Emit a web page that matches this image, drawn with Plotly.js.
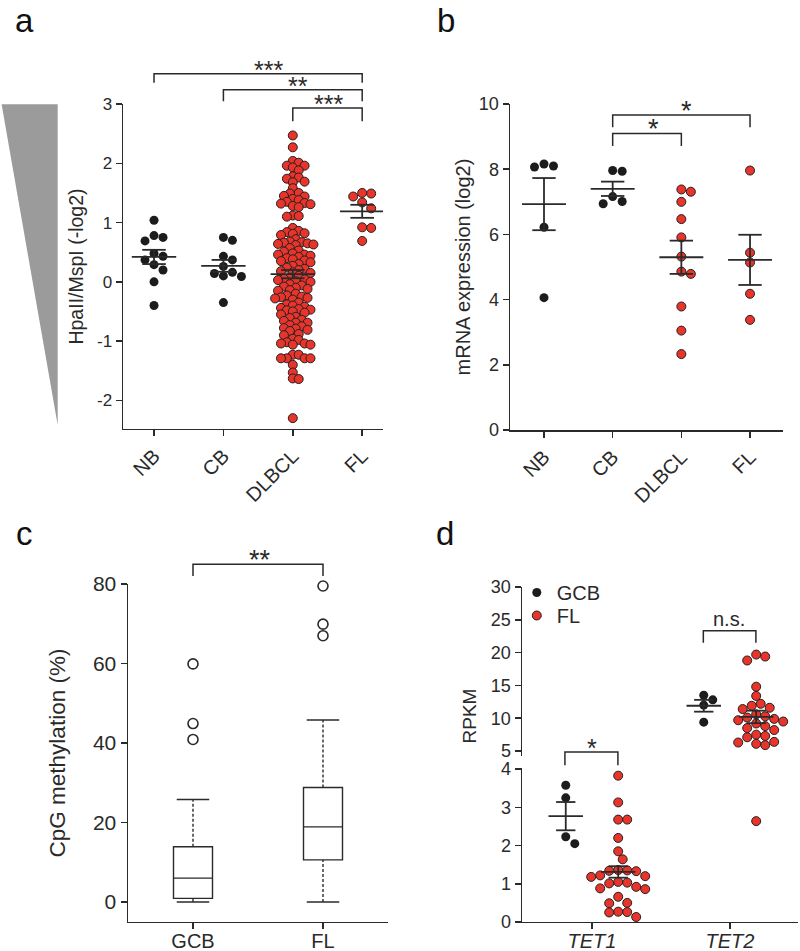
<!DOCTYPE html>
<html>
<head>
<meta charset="utf-8">
<script src="https://cdn.plot.ly/plotly-3.0.1.min.js"></script>
<style>
  html, body { margin: 0; padding: 0; background: #fff; }
  #chart { width: 800px; height: 951px; }
</style>
</head>
<body>
<div id="chart"></div>
<script>
// ---- panel a: HpaII/MspI ratio ----
const groupsA = ['NB', 'CB', 'DLBCL', 'FL'];
const nbA = [1.04, 0.75, 0.78, 0.69, 0.43, 0.48, 0.37, 0.29, 0.20, 0.00, -0.40];
const cbA = [0.75, 0.70, 0.37, 0.43, 0.26, 0.16, 0.10, 0.09, 0.14, -0.35];
const dlbclA = [
  2.47, 2.27,
  2.04, 2.01, 1.96, 1.96, 1.93, 1.88,
  1.78, 1.76, 1.74, 1.69, 1.68, 1.58,
  1.50, 1.49, 1.45, 1.44, 1.40, 1.38, 1.35, 1.33, 1.32, 1.31,
  1.28, 1.26,
  1.12, 1.11, 1.10,
  0.91, 0.86, 0.84, 0.82, 0.81, 0.79,
  0.72, 0.68, 0.67, 0.66, 0.65, 0.64, 0.63, 0.62,
  0.57, 0.53, 0.51, 0.48, 0.46, 0.46, 0.44,
  0.42, 0.40, 0.38, 0.36, 0.35, 0.33, 0.30,
  0.27, 0.24, 0.22, 0.20, 0.18, 0.16, 0.15,
  0.10, 0.07, 0.05, 0.04, 0.03, 0.01, 0.00,
  -0.04, -0.06, -0.08, -0.10, -0.12, -0.14, -0.15,
  -0.20, -0.23, -0.25, -0.26, -0.27, -0.28, -0.30,
  -0.35, -0.38, -0.40, -0.42, -0.44,
  -0.46, -0.47, -0.48, -0.50, -0.52,
  -0.55, -0.59, -0.61, -0.64, -0.66, -0.69, -0.69, -0.73,
  -0.75, -0.78, -0.79, -0.81, -0.83,
  -0.88, -0.90, -0.96, -0.98, -1.02, -1.04, -1.04, -1.06, -1.06,
  -1.23, -1.23, -1.29, -1.29, -1.29, -1.29, -1.40,
  -1.53, -1.63, -1.64,
  -2.30,
];
const flA = [1.44, 1.50, 1.49, 1.34, 1.24, 0.92, 0.91, 0.69];
const meanA = [0.42, 0.27, 0.13, 1.19];
const semA = [0.12, 0.10, 0.07, 0.11];
const ticksA = [-2, -1, 0, 1, 2, 3];
const tickTextA = ['-2', '-1', '0', '1', '2', '3'];

// ---- panel b: mRNA expression ----
const groupsB = ['NB', 'CB', 'DLBCL', 'FL'];
const nbB = [8.16, 8.07, 8.10, 6.22, 4.06];
const cbB = [7.96, 7.94, 7.16, 6.94, 7.01];
const dlbclB = [7.31, 7.38, 7.00, 6.47, 5.91, 5.32, 4.86, 4.79, 3.79, 3.05, 2.33];
const flB = [7.96, 5.44, 5.14, 4.18, 3.38];
const meanB = [6.93, 7.40, 5.30, 5.22];
const semB = [0.80, 0.22, 0.51, 0.77];

// ---- panel c: CpG methylation boxes ----
const groupsC = ['GCB', 'FL'];
const lowerC = [0, 0];
const q1C = [0.9, 10.6];
const medianC = [6.0, 18.9];
const q3C = [13.9, 28.8];
const upperC = [25.8, 45.8];
const outGcbC = [40.9, 44.9, 59.9];
const outFlC = [67.0, 69.9, 79.5];

// ---- panel d: TET RPKM ----
const genesD = ['TET1', 'TET2'];
const tet1Gcb = [3.58, 3.25, 2.23, 2.05];
const tet1Fl = [3.83, 3.13, 2.68, 2.68, 2.20, 1.85, 1.64, 1.36, 1.35, 1.34, 1.33, 1.22, 1.20, 1.18,
  1.05, 1.03, 1.01, 0.92, 0.88, 0.86, 0.66, 0.50, 0.49, 0.27, 0.26, 0.25, 0.13];
const tet2Gcb = [13.5, 12.8, 12.0, 9.4];
const tet2Fl = [19.7, 19.4, 18.8, 14.8, 13.4, 12.2, 11.9, 11.6, 11.4, 10.6, 10.3, 10.1, 9.9, 9.7,
  9.5, 9.2, 8.8, 8.5, 8.2, 7.5, 7.3, 7.1, 6.4, 6.3, 6.1, 5.9, 2.64];
const meanGcbD = [2.77, 11.9];
const semGcbD = [0.37, 0.9];
const meanFlD = [1.31, 10.2];
const semFlD = [0.15, 0.95];

// ---------------------------------------------------------------
const W = 800, H = 951;
const RED = '#e8342b', BLACK = '#1c1c1c', INK = '#2a2a2a';
const FONT = 'Arial, "Liberation Sans", sans-serif';

const domA = { x: [0.15375, 0.47875], y: [0.5489, 0.8906] };
const rngA = { x: [-0.447, 3.30], y: [-2.483, 3] };
const domB = { x: [0.6375, 0.97875], y: [0.5478, 0.8906] };
const rngB = { x: [-0.495, 3.48], y: [0, 10] };
const domC = { x: [0.16, 0.485], y: [0.0305, 0.3859] };
const rngC = { x: [-0.5, 1.5], y: [-5.03, 80] };
const domD = { x: [0.6525, 0.9975], lo: [0.0305, 0.1924], hi: [0.2050, 0.3828] };
const rngD = { x: [-0.507, 1.493], lo: [0, 4.03], hi: [4.24, 30] };

function pxPer(dom, rng, size) {
  return (dom[1] - dom[0]) * size / (rng[1] - rng[0]);
}
function toPaper(dom, rng, v) {
  return dom[0] + (v - rng[0]) / (rng[1] - rng[0]) * (dom[1] - dom[0]);
}

// greedy beeswarm in pixel space, returns x offsets in axis units
function swarm(values, pyUnit, pxUnit, diam) {
  const order = values.map((v, i) => i).sort((a, b) => values[b] - values[a]);
  const placed = [];
  const offsets = new Array(values.length).fill(0);
  const step = diam * 0.5;
  order.forEach((i) => {
    const y = values[i] * pyUnit;
    for (let k = 0; k < 80; k++) {
      const dx = k === 0 ? 0 : Math.ceil(k / 2) * step * (k % 2 ? 1 : -1);
      const hit = placed.some((p) => (p.x - dx) ** 2 + (p.y - y) ** 2 < diam * diam);
      if (!hit) {
        placed.push({ x: dx, y });
        offsets[i] = dx / pxUnit;
        break;
      }
    }
  });
  return offsets;
}

function dots(values, center, pyUnit, pxUnit, diam, color, axes) {
  const off = swarm(values, pyUnit, pxUnit, diam);
  const red = color === RED;
  return {
    type: 'scatter', mode: 'markers',
    x: values.map((v, i) => center + off[i]), y: values,
    marker: { size: 9, color, line: { color: red ? '#222' : color, width: red ? 1 : 0 } },
    showlegend: false, cliponaxis: false, hoverinfo: 'y',
    xaxis: axes[0], yaxis: axes[1],
  };
}

function meanSem(centers, means, sems, halfMean, halfCap, axes) {
  const x = [], y = [];
  centers.forEach((c, i) => {
    const m = means[i], lo = m - sems[i], hi = m + sems[i];
    x.push(c - halfMean, c + halfMean, null, c, c, null, c - halfCap, c + halfCap, null, c - halfCap, c + halfCap, null);
    y.push(m, m, null, lo, hi, null, hi, hi, null, lo, lo, null);
  });
  return {
    type: 'scatter', mode: 'lines', x, y, line: { color: INK, width: 1.8 },
    showlegend: false, hoverinfo: 'skip', cliponaxis: false, xaxis: axes[0], yaxis: axes[1],
  };
}

const traces = [];

// panel a
const pyA = pxPer(domA.y, rngA.y, H), pxA = pxPer(domA.x, rngA.x, W);
[nbA, cbA, dlbclA, flA].forEach((vals, g) => {
  const diam = g === 2 ? 5.9 : 9;
  traces.push(dots(vals, g, pyA, pxA, diam, g < 2 ? BLACK : RED, ['x', 'y']));
});
traces.push(meanSem([0, 1, 2, 3], meanA, semA, 0.32, 0.17, ['x', 'y']));

// panel b
const pyB = pxPer(domB.y, rngB.y, H), pxB = pxPer(domB.x, rngB.x, W);
[nbB, cbB, dlbclB, flB].forEach((vals, g) => {
  traces.push(dots(vals, g, pyB, pxB, 9.5, g < 2 ? BLACK : RED, ['x2', 'y2']));
});
traces.push(meanSem([0, 1, 2, 3], meanB, semB, 0.32, 0.17, ['x2', 'y2']));

// panel c
traces.push({
  type: 'box', x: [0, 1], q1: q1C, median: medianC, q3: q3C,
  lowerfence: q1C, upperfence: q3C, width: 0.3, whiskerwidth: 0,
  fillcolor: '#ffffff', line: { color: INK, width: 1.4 }, boxpoints: false,
  showlegend: false, hoverinfo: 'skip', xaxis: 'x3', yaxis: 'y3',
});
const whX = [], whY = [], capX = [], capY = [];
[0, 1].forEach((c) => {
  whX.push(c, c, null, c, c, null);
  whY.push(q3C[c], upperC[c], null, lowerC[c], q1C[c], null);
  capX.push(c - 0.125, c + 0.125, null, c - 0.125, c + 0.125, null);
  capY.push(upperC[c], upperC[c], null, lowerC[c], lowerC[c], null);
});
traces.push({ type: 'scatter', mode: 'lines', x: whX, y: whY, line: { color: INK, width: 1.4, dash: '3px,2px' },
  showlegend: false, hoverinfo: 'skip', xaxis: 'x3', yaxis: 'y3' });
traces.push({ type: 'scatter', mode: 'lines', x: capX, y: capY, line: { color: INK, width: 1.4 },
  showlegend: false, hoverinfo: 'skip', cliponaxis: false, xaxis: 'x3', yaxis: 'y3' });
[outGcbC, outFlC].forEach((vals, c) => {
  traces.push({ type: 'scatter', mode: 'markers', x: vals.map(() => c), y: vals,
    marker: { symbol: 'circle-open', size: 10, color: INK, line: { width: 1.6 } },
    showlegend: false, cliponaxis: false, xaxis: 'x3', yaxis: 'y3' });
});

// panel d (broken y axis: y4 lower, y5 upper)
const pxD = pxPer(domD.x, rngD.x, W);
const pyLo = pxPer(domD.lo, rngD.lo, H), pyHi = pxPer(domD.hi, rngD.hi, H);
const split = { GCB: { lo: { x: [], y: [] }, hi: { x: [], y: [] } }, FL: { lo: { x: [], y: [] }, hi: { x: [], y: [] } } };
[[tet1Gcb, tet1Fl], [tet2Gcb, tet2Fl]].forEach((pair, gi) => {
  pair.forEach((vals, k) => {
    const key = k === 0 ? 'GCB' : 'FL';
    const center = gi + (k === 0 ? -0.19 : 0.19);
    const lo = vals.filter((v) => v <= rngD.lo[1]);
    const hi = vals.filter((v) => v > rngD.lo[1]);
    const offLo = swarm(lo, pyLo, pxD, 9);
    const offHi = swarm(hi, pyHi, pxD, 9);
    lo.forEach((v, i) => { split[key].lo.x.push(center + offLo[i]); split[key].lo.y.push(v); });
    hi.forEach((v, i) => { split[key].hi.x.push(center + offHi[i]); split[key].hi.y.push(v); });
  });
});
['GCB', 'FL'].forEach((key) => {
  const color = key === 'GCB' ? BLACK : RED;
  const mk = { size: 9, color, line: { color: key === 'FL' ? '#222' : color, width: key === 'FL' ? 1 : 0 } };
  traces.push({ type: 'scatter', mode: 'markers', name: key, x: split[key].hi.x, y: split[key].hi.y,
    marker: mk, showlegend: true, legend: key === 'GCB' ? 'legend' : 'legend2',
    cliponaxis: false, xaxis: 'x4', yaxis: 'y5' });
  traces.push({ type: 'scatter', mode: 'markers', name: key, x: split[key].lo.x, y: split[key].lo.y,
    marker: mk, showlegend: false, cliponaxis: false, xaxis: 'x4', yaxis: 'y4' });
});
[0, 1].forEach((gi) => {
  const ax = gi === 0 ? 'y4' : 'y5';
  traces.push(meanSem([gi - 0.19, gi + 0.19], [meanGcbD[gi], meanFlD[gi]], [semGcbD[gi], semFlD[gi]], 0.125, 0.07, ['x4', ax]));
});

// ---------------------------------------------------------------
const axisBase = {
  showgrid: false, zeroline: false, showline: true, linecolor: INK, linewidth: 1.5,
  ticks: 'outside', ticklen: 6, tickwidth: 1.5, tickcolor: INK, fixedrange: true,
};

// significance brackets (x in data units, y converted to paper)
const shapes = [{
  type: 'path', xref: 'paper', yref: 'paper',
  path: 'M 0.002,0.8903 L 0.0721,0.8903 L 0.0721,0.5531 Z',
  fillcolor: '#9b9b9b', line: { width: 0 },
}];
const annotations = [];
function bracket(xref, x0, x1, top, leg, label, labelX, size, shift) {
  shapes.push({
    type: 'path', xref, yref: 'paper', line: { color: INK, width: 1.5 },
    path: `M ${x0},${leg} L ${x0},${top} L ${x1},${top} L ${x1},${leg}`,
  });
  annotations.push({
    xref, yref: 'paper', x: labelX, y: top, yanchor: 'middle', yshift: shift, showarrow: false,
    text: label, font: { size, color: INK, family: FONT },
  });
}
const pa = (v) => toPaper(domA.y, rngA.y, v);
bracket('x', 0, 3, pa(3.51), pa(3.36), '***', 1.65, 25, 4);
bracket('x', 1, 3, pa(3.243), pa(3.046), '**', 2.07, 25, 4);
bracket('x', 2, 3, pa(2.934), pa(2.708), '***', 2.52, 25, 4);
const pb = (v) => toPaper(domB.y, rngB.y, v);
bracket('x2', 1, 3, pb(9.66), pb(9.29), '*', 2.08, 27, 4);
bracket('x2', 1, 2, pb(9.10), pb(8.71), '*', 1.59, 27, 4);
const pc = (v) => toPaper(domC.y, rngC.y, v);
bracket('x3', 0, 1, pc(84.95), pc(82.0), '**', 0.515, 27, 4);
bracket('x4', -0.196, 0.188, toPaper(domD.lo, rngD.lo, 4.45), toPaper(domD.lo, rngD.lo, 4.10), '*', 0.0, 25, 4);
bracket('x4', 0.807, 1.188, toPaper(domD.hi, rngD.hi, 23.34), toPaper(domD.hi, rngD.hi, 21.5), 'n.s.', 0.99, 20, 12);

// panel letters
[['a', 24, 0], ['b', 446, 0], ['c', 24, 513], ['d', 445, 513]].forEach(([t, px, py]) => {
  annotations.push({ xref: 'paper', yref: 'paper', x: px / W, y: 1 - py / H, xanchor: 'center', yanchor: 'top',
    showarrow: false, text: t, font: { size: 33, color: '#111', family: FONT } });
});

// RPKM title centred over both halves of the broken axis
annotations.push({ xref: 'paper', yref: 'paper', x: 469 / W, y: 1 - 746 / H, textangle: -90,
  showarrow: false, text: 'RPKM', font: { size: 19, color: INK, family: FONT } });

const legendBase = { xanchor: 'left', yanchor: 'top', font: { size: 20, color: INK },
  bgcolor: 'rgba(0,0,0,0)', tracegroupgap: 0 };

const layout = {
  width: W, height: H,
  margin: { l: 0, r: 0, t: 0, b: 0 },
  paper_bgcolor: '#ffffff', plot_bgcolor: 'rgba(0,0,0,0)',
  font: { family: FONT, color: INK, size: 16 },
  showlegend: true,
  legend: { ...legendBase, x: 0.646, y: 1 - 573 / H },
  legend2: { ...legendBase, x: 0.646, y: 1 - 596 / H },
  xaxis: { ...axisBase, domain: domA.x, range: rngA.x, anchor: 'y', tickvals: [0, 1, 2, 3], ticktext: groupsA,
    tickangle: -45, tickfont: { size: 20 } },
  yaxis: { ...axisBase, domain: domA.y, range: rngA.y, anchor: 'x', tickvals: ticksA, ticktext: tickTextA,
    tickfont: { size: 17 }, title: { text: 'HpaII/MspI (-log2)', font: { size: 19.5 }, standoff: 8 } },
  xaxis2: { ...axisBase, domain: domB.x, range: rngB.x, anchor: 'y2', tickvals: [0, 1, 2, 3], ticktext: groupsB,
    tickangle: -45, tickfont: { size: 20 } },
  yaxis2: { ...axisBase, domain: domB.y, range: rngB.y, anchor: 'x2', tickvals: [0, 2, 4, 6, 8, 10],
    tickfont: { size: 18 }, title: { text: 'mRNA expression (log2)', font: { size: 20 }, standoff: 3 } },
  xaxis3: { ...axisBase, domain: domC.x, range: rngC.x, anchor: 'y3', tickvals: [0, 1], ticktext: groupsC,
    tickfont: { size: 20 }, ticklabelstandoff: -5 },
  yaxis3: { ...axisBase, domain: domC.y, range: rngC.y, anchor: 'x3', tickvals: [0, 20, 40, 60, 80],
    tickfont: { size: 21 }, title: { text: 'CpG methylation (%)', font: { size: 22.5 }, standoff: 21 } },
  xaxis4: { ...axisBase, domain: domD.x, range: rngD.x, anchor: 'y4', tickvals: [0, 1],
    ticktext: genesD.map((g) => `<i>${g}</i>`), tickfont: { size: 20 }, ticklabelstandoff: -5 },
  yaxis4: { ...axisBase, domain: domD.lo, range: rngD.lo, anchor: 'x4', tickvals: [0, 1, 2, 3, 4],
    tickfont: { size: 18 } },
  yaxis5: { ...axisBase, domain: domD.hi, range: rngD.hi, anchor: 'x4', tickvals: [5, 10, 15, 20, 25, 30],
    tickfont: { size: 18 } },
  shapes, annotations,
};

Plotly.newPlot('chart', traces, layout, { displayModeBar: false, staticPlot: true });
</script>
</body>
</html>
